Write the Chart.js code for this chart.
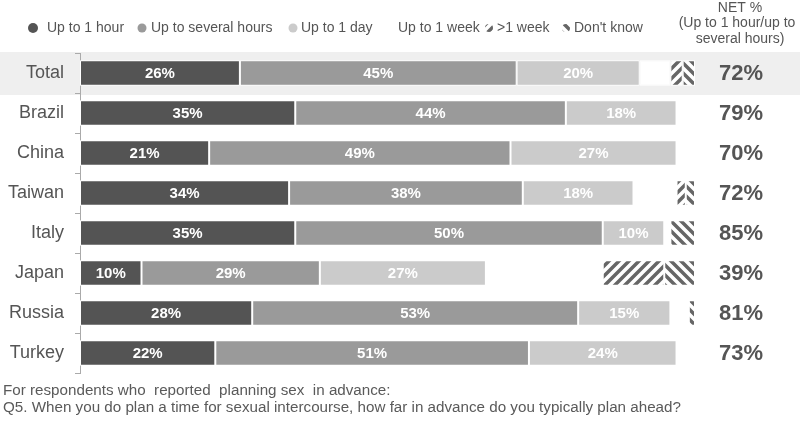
<!DOCTYPE html>
<html>
<head>
<meta charset="utf-8">
<script src="https://cdn.jsdelivr.net/npm/chart.js@4.4.0/dist/chart.umd.min.js"></script>
<style>
  html, body { margin: 0; padding: 0; background: #fff; }
  #wrap { width: 800px; height: 421px; position: relative; }
</style>
</head>
<body>
<div id="wrap"><canvas id="chart" width="800" height="421"></canvas></div>
<script>
// Data
const categories = ['Total', 'Brazil', 'China', 'Taiwan', 'Italy', 'Japan', 'Russia', 'Turkey'];
const upTo1Hour = [26, 35, 21, 34, 35, 10, 28, 22];
const upToSeveralHours = [45, 44, 49, 38, 50, 29, 53, 51];
const upTo1Day = [20, 18, 27, 18, 10, 27, 15, 24];
const upTo1Week = [5, 3, 3, 7, 1, 19, 3, 3];
const moreThan1Week = [2, 0, 0, 1.5, 0, 10, 0, 0];
const dontKnow = [2, 0, 0, 1.5, 4, 5, 1, 0];
const netPercent = [72, 79, 70, 72, 85, 39, 81, 73];

const TEXT = '#555555';
const FONT = '"Liberation Sans", Arial, sans-serif';

// Hatch pattern tiles
function makeHatch(dir) {
    const size = 10;
    const tile = document.createElement('canvas');
    tile.width = size;
    tile.height = size;
    const c = tile.getContext('2d');
    c.fillStyle = '#fff';
    c.fillRect(0, 0, size, size);
    c.strokeStyle = '#666';
    c.lineWidth = 3.5;
    c.beginPath();
    if (dir === '/') {
        c.moveTo(-size / 2, size / 2); c.lineTo(size / 2, -size / 2);
        c.moveTo(0, size); c.lineTo(size, 0);
        c.moveTo(size / 2, size * 1.5); c.lineTo(size * 1.5, size / 2);
    } else {
        c.moveTo(-size / 2, size / 2); c.lineTo(size / 2, size * 1.5);
        c.moveTo(0, 0); c.lineTo(size, size);
        c.moveTo(size / 2, -size / 2); c.lineTo(size * 1.5, size / 2);
    }
    c.stroke();
    return c.createPattern(tile, 'repeat');
}

const slashHatch = makeHatch('/');
const backHatch = makeHatch('\\');

// legend text x and marker offset/radius (layout only)
const series = [
    { label: 'Up to 1 hour', data: upTo1Hour, color: '#545454', marker: 'dot', showValue: true, lx: 47, off: 14, r: 5 },
    { label: 'Up to several hours', data: upToSeveralHours, color: '#9a9a9a', marker: 'dot', showValue: true, lx: 151, off: 9, r: 4.5 },
    { label: 'Up to 1 day', data: upTo1Day, color: '#cbcbcb', marker: 'dot', showValue: true, lx: 301, off: 8, r: 4.5 },
    { label: 'Up to 1 week', data: upTo1Week, color: '#ffffff', marker: 'none', showValue: false, lx: 398, off: 8, r: 4 },
    { label: '>1 week', data: moreThan1Week, color: slashHatch, marker: 'hatch', showValue: false, lx: 497, off: 8, r: 4 },
    { label: "Don't know", data: dontKnow, color: backHatch, marker: 'hatch', showValue: false, lx: 574, off: 8, r: 4 }
];

// Highlight band behind the Total row
const totalBand = {
    id: 'totalBand',
    beforeDraw(chart) {
        const { ctx, scales: { y } } = chart;
        const yc = y.getPixelForValue(0);
        ctx.save();
        ctx.fillStyle = '#efefef';
        ctx.fillRect(0, yc - 21, chart.width, 43);
        ctx.restore();
    }
};

// Value labels, NET column, legend and footnote
const overlay = {
    id: 'overlay',
    afterDatasetsDraw(chart) {
        const { ctx, scales: { y } } = chart;
        ctx.save();
        ctx.textAlign = 'center';
        ctx.textBaseline = 'middle';
        ctx.fillStyle = '#fff';
        ctx.font = 'bold 15px ' + FONT;
        series.forEach((s, di) => {
            if (!s.showValue) return;
            chart.getDatasetMeta(di).data.forEach((bar, i) => {
                const { x, base, y: by } = bar.getProps(['x', 'base', 'y'], true);
                ctx.fillText(s.data[i] + '%', (x + base) / 2, by + 1);
            });
        });

        // NET column
        ctx.fillStyle = TEXT;
        ctx.font = 'bold 22px ' + FONT;
        netPercent.forEach((v, i) => {
            ctx.fillText(v + '%', 741, y.getPixelForValue(i) + 1);
        });
        ctx.font = '14px ' + FONT;
        ctx.fillText('NET %', 740, 8);
        ctx.fillText('(Up to 1 hour/up to', 737, 23);
        ctx.fillText('several hours)', 740, 39);

        // Legend
        ctx.textAlign = 'left';
        const ly = 28;
        series.forEach(s => {
            if (s.marker !== 'none') {
                ctx.beginPath();
                ctx.arc(s.lx - s.off, ly, s.r, 0, Math.PI * 2);
                ctx.fillStyle = s.color;
                ctx.fill();
            }
            ctx.fillStyle = TEXT;
            ctx.font = '14px ' + FONT;
            ctx.fillText(s.label, s.lx, ly);
        });

        // Footnote
        ctx.fillStyle = '#5a5a5a';
        ctx.font = '15.2px ' + FONT;
        ctx.fillText('For respondents who  reported  planning sex  in advance:', 3, 391);
        ctx.fillText('Q5. When you do plan a time for sexual intercourse, how far in advance do you typically plan ahead?', 3, 408);
        ctx.restore();
    }
};

new Chart(document.getElementById('chart'), {
    type: 'bar',
    data: {
        labels: categories,
        datasets: series.map(s => ({
            label: s.label,
            data: s.data,
            backgroundColor: s.color,
            borderColor: '#ffffff',
            borderWidth: 1,
            borderSkipped: false,
            categoryPercentage: 1,
            barPercentage: 0.64
        }))
    },
    options: {
        indexAxis: 'y',
        responsive: false,
        animation: false,
        layout: { padding: { top: 53, bottom: 48, right: 105, left: 0 } },
        plugins: {
            legend: { display: false },
            tooltip: { enabled: false }
        },
        scales: {
            x: {
                stacked: true,
                display: false,
                min: 0,
                max: 100
            },
            y: {
                stacked: true,
                afterFit(scale) { scale.width = 80; },
                border: { display: true, color: '#aaaaaa', width: 1 },
                grid: {
                    display: true,
                    drawOnChartArea: false,
                    drawTicks: true,
                    tickLength: 5,
                    offset: true,
                    color: '#aaaaaa'
                },
                ticks: {
                    color: TEXT,
                    padding: 11,
                    font: { family: FONT, size: 18 }
                }
            }
        }
    },
    plugins: [totalBand, overlay]
});
</script>
</body>
</html>
